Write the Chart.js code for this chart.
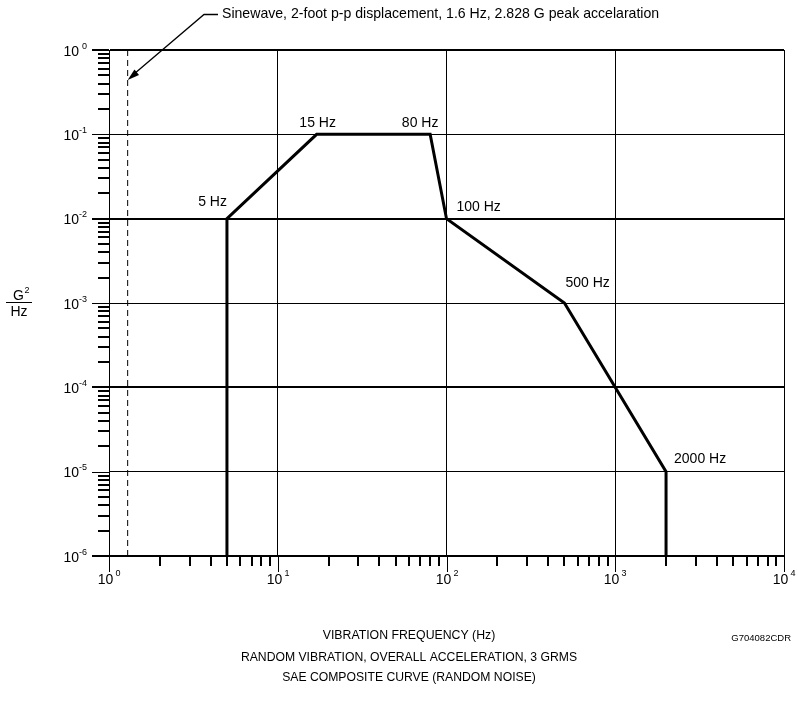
<!DOCTYPE html>
<html><head><meta charset="utf-8">
<script src="https://cdn.jsdelivr.net/npm/chart.js@4/dist/chart.umd.min.js"></script>
<style>html,body{margin:0;padding:0;background:#fff;} canvas{display:block;}</style>
</head><body>
<canvas id="c" width="798" height="702"></canvas>
<script>
// ---- data ----
const freqHz = [5, 5, 17, 80, 100, 500, 2000, 2000];
const psdG2Hz = [1e-6, 1e-2, 1e-1, 1e-1, 1e-2, 1e-3, 1e-5, 1e-6];
const sineFreqHz = [1.29, 1.29];
const sinePsd = [1e-6, 1];
const breakLabels = ['5 Hz', '15 Hz', '80 Hz', '100 Hz', '500 Hz', '2000 Hz'];
const breakIndex = [1, 2, 3, 4, 5, 6];
const xDecades = [1, 10, 100, 1000, 10000];
const xExponents = ['0', '1', '2', '3', '4'];
const yDecades = [1e-6, 1e-5, 1e-4, 1e-3, 1e-2, 1e-1, 1];
const yExponents = ['-6', '-5', '-4', '-3', '-2', '-1', '0'];
const minorMultipliers = [2, 3, 4, 5, 6, 7, 8, 9];
const arrowTip = { x: 1.29, y: 0.44 };
const sineNote = 'Sinewave, 2-foot p-p displacement, 1.6 Hz, 2.828 G peak accelaration';
const xTitle = 'VIBRATION FREQUENCY (Hz)';
const subtitles = ['RANDOM VIBRATION, OVERALL ACCELERATION, 3 GRMS', 'SAE COMPOSITE CURVE (RANDOM NOISE)'];
const figId = 'G704082CDR';

// ---- presentation ----
const FONT = '"Liberation Sans", Arial, Helvetica, sans-serif';
const labelOffsets = [
  { dx: 0, dy: -17, align: 'right' },
  { dx: 1, dy: -11, align: 'center' },
  { dx: -10, dy: -11, align: 'center' },
  { dx: 10, dy: -12, align: 'left' },
  { dx: 1, dy: -20, align: 'left' },
  { dx: 8, dy: -13, align: 'left' }
];

const curve = freqHz.map((f, i) => ({ x: f, y: psdG2Hz[i] }));
const sine = sineFreqHz.map((f, i) => ({ x: f, y: sinePsd[i] }));

function txt(ctx, s, x, y, size, align, base) {
  ctx.font = size + 'px ' + FONT;
  ctx.textAlign = align || 'left';
  ctx.textBaseline = base || 'alphabetic';
  ctx.fillText(s, x, y);
}

const decor = {
  id: 'decor',
  afterDraw(chart) {
    const ctx = chart.ctx, xs = chart.scales.x, ys = chart.scales.y, a = chart.chartArea;
    ctx.save();
    ctx.strokeStyle = '#000';
    ctx.fillStyle = '#000';
    // x minor + decade ticks
    xDecades.forEach((d, i) => {
      const px = Math.round(xs.getPixelForValue(d)) + 0.5;
      ctx.lineWidth = 1;
      ctx.beginPath(); ctx.moveTo(px, a.bottom); ctx.lineTo(px, a.bottom + 16); ctx.stroke();
      if (i < xDecades.length - 1) {
        ctx.lineWidth = 2;
        minorMultipliers.forEach(m => {
          const p = Math.round(xs.getPixelForValue(d * m));
          ctx.beginPath(); ctx.moveTo(p, a.bottom); ctx.lineTo(p, a.bottom + 10); ctx.stroke();
        });
      }
      txt(ctx, '10', px - 4, a.bottom + 28, 14, 'center');
      txt(ctx, xExponents[i], px + 6, a.bottom + 20, 9, 'left');
    });
    // y ticks
    yDecades.forEach((d, i) => {
      const py = ys.getPixelForValue(d);
      const even = (Math.round(Math.log10(d)) % 2) === 0;
      ctx.lineWidth = even ? 2 : 1;
      const pyy = even ? Math.round(py) : Math.round(py) + 0.5;
      ctx.beginPath(); ctx.moveTo(a.left - 17, pyy); ctx.lineTo(a.left, pyy); ctx.stroke();
      if (i < yDecades.length - 1) {
        ctx.lineWidth = 2;
        minorMultipliers.forEach(m => {
          const p = Math.round(ys.getPixelForValue(d * m));
          ctx.beginPath(); ctx.moveTo(a.left - 11, p); ctx.lineTo(a.left, p); ctx.stroke();
        });
      }
      txt(ctx, '10', a.left - 30, py + 5.5, 14, 'right');
      txt(ctx, yExponents[i], a.left - 22, py - 1.5, 9, 'right');
    });
    // break-point labels
    breakIndex.forEach((k, i) => {
      const o = labelOffsets[i];
      const px = xs.getPixelForValue(freqHz[k]);
      const py = ys.getPixelForValue(psdG2Hz[k]);
      txt(ctx, breakLabels[i], px + o.dx, py + o.dy, 14, o.align, 'middle');
    });
    // arrow annotation
    const tx = xs.getPixelForValue(arrowTip.x), ty = ys.getPixelForValue(arrowTip.y);
    const sx = 204, sy = 14.5;
    ctx.lineWidth = 1.3;
    ctx.beginPath(); ctx.moveTo(218, sy); ctx.lineTo(sx, sy); ctx.lineTo(tx + 4, ty - 4); ctx.stroke();
    const ang = Math.atan2(ty - sy, tx - sx);
    const L = 12, W = 3.5;
    ctx.beginPath();
    ctx.moveTo(tx, ty);
    ctx.lineTo(tx - L * Math.cos(ang) + W * Math.sin(ang), ty - L * Math.sin(ang) - W * Math.cos(ang));
    ctx.lineTo(tx - L * Math.cos(ang) - W * Math.sin(ang), ty - L * Math.sin(ang) + W * Math.cos(ang));
    ctx.closePath(); ctx.fill();
    txt(ctx, sineNote, 222, sy, 14.1, 'left', 'middle');
    // y title  G^2 / Hz
    txt(ctx, 'G', 18.5, 300, 14, 'center');
    txt(ctx, '2', 24.5, 292.5, 9, 'left');
    ctx.lineWidth = 1;
    ctx.beginPath(); ctx.moveTo(6, 302.5); ctx.lineTo(32, 302.5); ctx.stroke();
    txt(ctx, 'Hz', 19, 315.5, 14, 'center');
    // bottom titles
    txt(ctx, xTitle, 409, 636, 12.3, 'center', 'middle');
    txt(ctx, subtitles[0], 409, 657.5, 12.2, 'center', 'middle');
    txt(ctx, subtitles[1], 409, 678, 12.2, 'center', 'middle');
    txt(ctx, figId, 791, 638, 9.5, 'right', 'middle');
    ctx.restore();
  }
};

new Chart(document.getElementById('c'), {
  type: 'scatter',
  data: {
    datasets: [
      { data: curve, showLine: true, borderColor: '#000', borderWidth: 3, pointRadius: 0,
        borderJoinStyle: 'miter', borderCapStyle: 'butt', fill: false, tension: 0 },
      { data: sine, showLine: true, borderColor: '#000', borderWidth: 1, borderDash: [6, 4],
        pointRadius: 0, fill: false }
    ]
  },
  options: {
    responsive: false,
    animation: false,
    devicePixelRatio: 1,
    layout: { padding: { left: 0, right: 14, top: 50, bottom: 0 } },
    plugins: { legend: { display: false }, tooltip: { enabled: false } },
    scales: {
      x: {
        type: 'logarithmic', min: 1, max: 10000,
        afterBuildTicks: s => { s.ticks = xDecades.map(v => ({ value: v })); },
        afterFit: s => { s.height = 146; },
        grid: { color: '#000', lineWidth: 1, drawTicks: false, tickLength: 0 },
        border: { display: true, color: '#000', width: 2 },
        ticks: { display: false }
      },
      y: {
        type: 'logarithmic', min: 1e-6, max: 1,
        afterBuildTicks: s => { s.ticks = yDecades.map(v => ({ value: v })); },
        afterFit: s => { s.width = 109; },
        grid: {
          color: '#000', drawTicks: false, tickLength: 0,
          lineWidth: c => (c.tick && Math.round(Math.log10(c.tick.value)) % 2 === 0) ? 2 : 1
        },
        border: { display: true, color: '#000', width: 1 },
        ticks: { display: false }
      }
    }
  },
  plugins: [decor]
});
</script>
</body></html>
